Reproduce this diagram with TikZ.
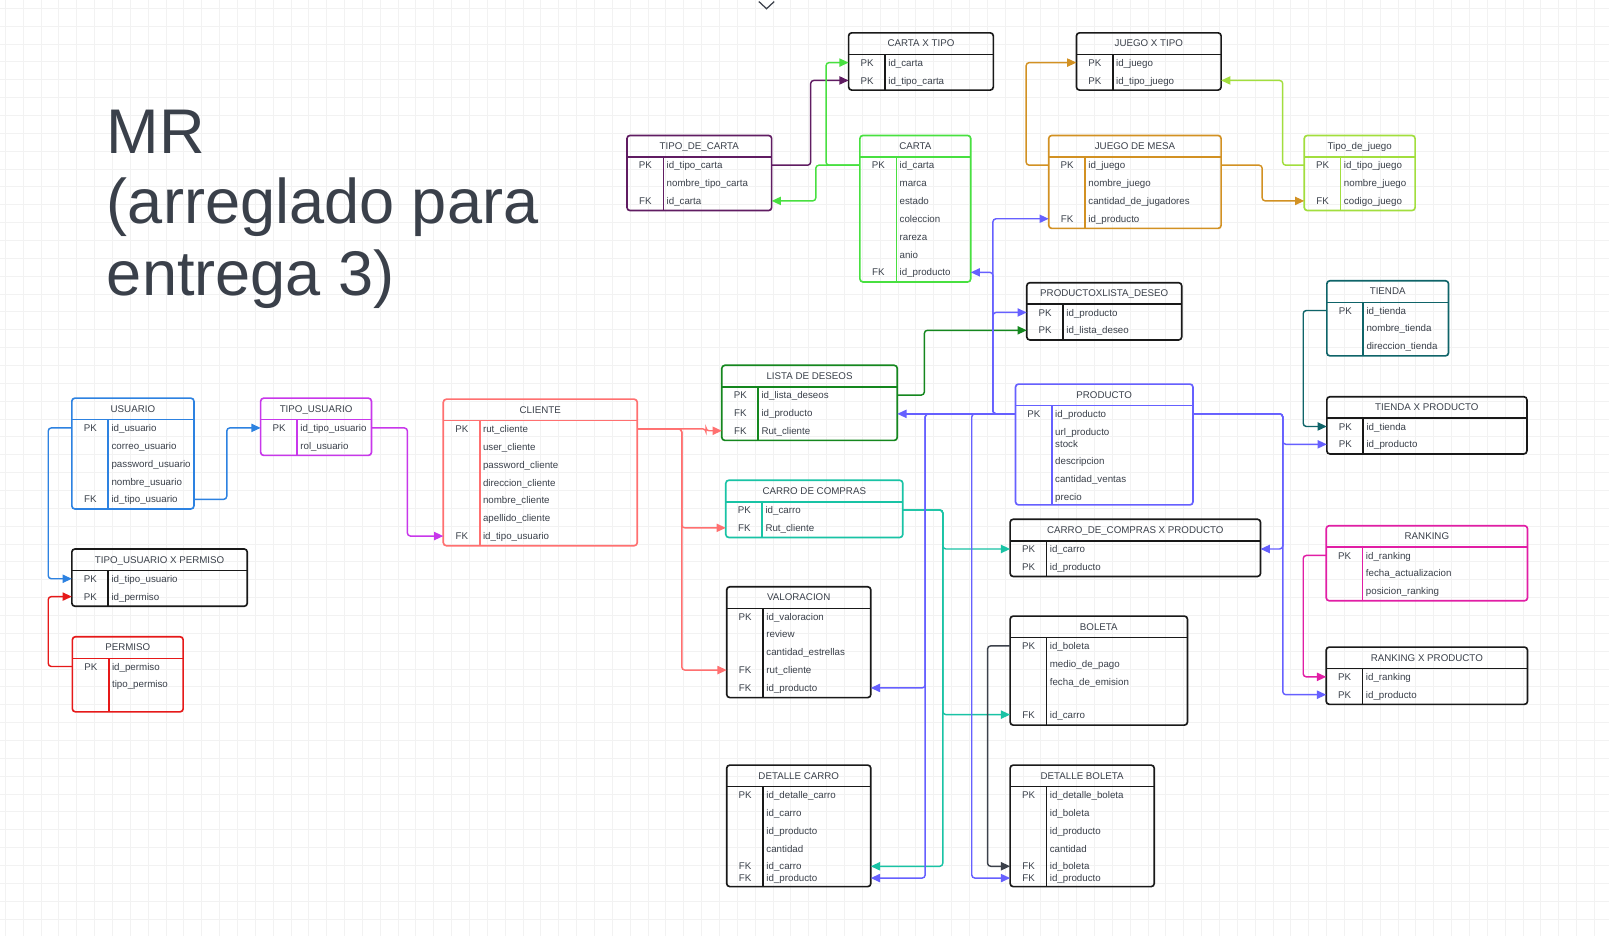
\documentclass[tikz,border=0pt]{standalone}
\usepackage{fontspec}
\setmainfont{Liberation Sans}
\usetikzlibrary{arrows.meta}

\definecolor{texto}{RGB}{58,64,74}
\definecolor{negro}{RGB}{25,25,25}
\definecolor{morado}{RGB}{96,28,98}
\definecolor{verde}{RGB}{72,224,64}
\definecolor{naranja}{RGB}{210,145,35}
\definecolor{lima}{RGB}{162,222,62}
\definecolor{azul}{RGB}{45,130,225}
\definecolor{violeta}{RGB}{200,55,235}
\definecolor{rojo}{RGB}{230,25,25}
\definecolor{salmon}{RGB}{255,112,112}
\definecolor{verdeosc}{RGB}{20,135,30}
\definecolor{turquesa}{RGB}{25,195,165}
\definecolor{lila}{RGB}{102,96,255}
\definecolor{petroleo}{RGB}{15,100,105}
\definecolor{rosa}{RGB}{225,30,165}
\definecolor{grisosc}{RGB}{60,65,75}

\tikzset{
    borde/.style={line width=1.6pt, rounded corners=3pt},
    linea/.style={line width=1.5pt},
    letra/.style={text=texto, font=\fontsize{9.5}{11}\selectfont, inner sep=0pt, text height=7pt, text depth=2pt},
    cabecera/.style={letra},
    clave/.style={letra},
    campo/.style={letra, anchor=west},
    fila/.style={minimum height=0pt, inner sep=0pt, outer sep=0pt},
    conector/.style={line width=1.4pt, rounded corners=3pt, -{Triangle[length=9pt,width=8pt]}},
    rejilla/.style={gray!10, line width=0.6pt},
    titulo/.style={text=texto, font=\fontsize{61.5}{70}\selectfont, inner sep=0pt, anchor=base west},
}

% #1 nombre, #2 titulo, #3 color, #4 x, #5 y, #6 ancho, #7 alto (filas), #8 filas clave/campo/posicion
\newcommand{\tabla}[8]{%
    \draw[borde, #3] (#4,#5) rectangle ++(#6,21+#7*17.4);
    \draw[linea, #3] (#4,#5+21) -- ++(#6,0);
    \draw[linea, #3] (#4+35.5,#5+21) -- (#4+35.5,#5+21+#7*17.4);
    \node[cabecera] (#1) at (#4+#6/2,#5+11.3) {#2};
    \foreach \k/\f/\p [count=\i] in {#8} {
        \node[fila, minimum width=#6pt] (#1-\i) at (#4+#6/2,#5+29+\p*17.4) {};
        \node[clave] (#1-\i-k) at (#4+18,#5+30+\p*17.4) {\k};
        \node[campo] (#1-\i-c) at (#4+38.5,#5+30+\p*17.4) {\f};
    }%
}

\begin{document}
\begin{tikzpicture}[x=1pt, y=-1pt]

    \useasboundingbox (0,0) rectangle (1568,912);
    \fill[white] (0,0) rectangle (1568,912);

    % rejilla de fondo
    \foreach \gx in {5,22.4,...,1568} {
        \draw[rejilla] (\gx,0) -- (\gx,912);
    }
    \foreach \gy in {8,25.4,...,912} {
        \draw[rejilla] (0,\gy) -- (1568,\gy);
    }

    \draw[grisosc, line width=1.2pt] (739.5,1.5) -- (747,8.5) -- (754.5,1.5);

    \node[titulo] (tit1) at (104,150) {MR};
    \node[titulo] (tit2) at (104,218) {(arreglado para};
    \node[titulo] (tit3) at (104,288) {entrega 3)};

    % tablas
    \tabla{cxt}{CARTA X TIPO}{negro}{827}{32}{141}{2}{PK/id\_carta/0, PK/id\_tipo\_carta/1}
    \tabla{tdc}{TIPO\_DE\_CARTA}{morado}{611}{132}{141}{3}{PK/id\_tipo\_carta/0, {}/nombre\_tipo\_carta/1, FK/id\_carta/2}
    \tabla{carta}{CARTA}{verde}{838}{132}{108}{7}{PK/id\_carta/0, {}/marca/1, {}/estado/2, {}/coleccion/3, {}/rareza/4, {}/anio/5, FK/id\_producto/6}
    \tabla{jxt}{JUEGO X TIPO}{negro}{1049}{32}{141}{2}{PK/id\_juego/0, PK/id\_tipo\_juego/1}
    \tabla{jm}{JUEGO DE MESA}{naranja}{1022}{132}{168}{4}{PK/id\_juego/0, {}/nombre\_juego/1, {}/cantidad\_de\_jugadores/2, FK/id\_producto/3}
    \tabla{tdj}{Tipo\_de\_juego}{lima}{1271}{132}{108}{3}{PK/id\_tipo\_juego/0, {}/nombre\_juego/1, FK/codigo\_juego/2}
    \tabla{usu}{USUARIO}{azul}{70}{388}{119}{5}{PK/id\_usuario/0, {}/correo\_usuario/1, {}/password\_usuario/2, {}/nombre\_usuario/3, FK/id\_tipo\_usuario/4}
    \tabla{tu}{TIPO\_USUARIO}{violeta}{254}{388}{108}{2}{PK/id\_tipo\_usuario/0, {}/rol\_usuario/1}
    \tabla{tuxp}{TIPO\_USUARIO X PERMISO}{negro}{70}{535}{171}{2}{PK/id\_tipo\_usuario/0, PK/id\_permiso/1}
    \tabla{perm}{PERMISO}{rojo}{70.5}{620.5}{108}{3}{PK/id\_permiso/0, {}/tipo\_permiso/1}
    \tabla{cli}{CLIENTE}{salmon}{432}{389}{189}{7}{PK/rut\_cliente/0, {}/user\_cliente/1, {}/password\_cliente/2, {}/direccion\_cliente/3, {}/nombre\_cliente/4, {}/apellido\_cliente/5, FK/id\_tipo\_usuario/6}
    \tabla{lista}{LISTA DE DESEOS}{verdeosc}{703.4}{356}{171}{3}{PK/id\_lista\_deseos/0, FK/id\_producto/1, FK/Rut\_cliente/2}
    \tabla{carro}{CARRO DE COMPRAS}{turquesa}{707.3}{468}{172.5}{2}{PK/id\_carro/0, FK/Rut\_cliente/1}
    \tabla{pxl}{PRODUCTOXLISTA\_DESEO}{negro}{1000.6}{275.5}{151}{2}{PK/id\_producto/0, PK/id\_lista\_deseo/1}
    \tabla{prod}{PRODUCTO}{lila}{989.6}{374.3}{173}{5.56}{PK/id\_producto/0, {}/url\_producto/1, {}/stock/1.68, {}/descripcion/2.66, {}/cantidad\_ventas/3.66, {}/precio/4.65}
    \tabla{tie}{TIENDA}{petroleo}{1293}{273.6}{118.6}{3}{PK/id\_tienda/0, {}/nombre\_tienda/1, {}/direccion\_tienda/2}
    \tabla{txp}{TIENDA X PRODUCTO}{negro}{1293}{386.6}{195}{2}{PK/id\_tienda/0, PK/id\_producto/1}
    \tabla{cxp}{CARRO\_DE\_COMPRAS X PRODUCTO}{negro}{984.4}{506}{244}{2}{PK/id\_carro/0, PK/id\_producto/1}
    \tabla{val}{VALORACION}{negro}{708.2}{571.8}{140.4}{5}{PK/id\_valoracion/0, {}/review/1, {}/cantidad\_estrellas/2, FK/rut\_cliente/3, FK/id\_producto/4}
    \tabla{bol}{BOLETA}{negro}{984.4}{600.4}{172.8}{4.9}{PK/id\_boleta/0, {}/medio\_de\_pago/1, {}/fecha\_de\_emision/2, FK/id\_carro/3.85}
    \tabla{dc}{DETALLE CARRO}{negro}{708.2}{745.6}{140.4}{5.6}{PK/id\_detalle\_carro/0, {}/id\_carro/1, {}/id\_producto/2, {}/cantidad/3, FK/id\_carro/4, FK/id\_producto/4.66}
    \tabla{db}{DETALLE BOLETA}{negro}{984.4}{745.6}{140.4}{5.6}{PK/id\_detalle\_boleta/0, {}/id\_boleta/1, {}/id\_producto/2, {}/cantidad/3, FK/id\_boleta/4, FK/id\_producto/4.66}
    \tabla{rank}{RANKING}{rosa}{1292.4}{512.3}{196.2}{3}{PK/id\_ranking/0, {}/fecha\_actualizacion/1, {}/posicion\_ranking/2}
    \tabla{rxp}{RANKING X PRODUCTO}{negro}{1292.4}{630.6}{196.2}{2}{PK/id\_ranking/0, PK/id\_producto/1}

    % relaciones
    \draw[conector, morado] (tdc-1.east) -- ++(38,0) |- (cxt-2.west);
    \draw[conector, verde] (carta-1.west) -- ++(-33,0) |- (cxt-1.west);
    \draw[conector, verde] (carta-1.west) -- ++(-43,0) |- (tdc-3.east);
    \draw[conector, naranja] (jm-1.west) -- ++(-22,0) |- (jxt-1.west);
    \draw[conector, naranja] (jm-1.east) -- ++(40,0) |- (tdj-3.west);
    \draw[conector, lima] (tdj-1.west) -- ++(-21,0) |- (jxt-2.east);

    \draw[conector, azul] (usu-1.west) -- ++(-23,0) |- (tuxp-1.west);
    \draw[conector, azul] (usu-5.east) -- ++(32,0) |- (tu-1.west);
    \draw[conector, rojo] (perm-1.west) -- ++(-23.5,0) |- (tuxp-2.west);
    \draw[conector, violeta] (tu-1.east) -- ++(35,0) |- (cli-7.west);

    \draw[conector, salmon] (cli-1.east) -- ++(67,0) |- (lista-3.west);
    \draw[conector, salmon] (cli-1.east) -- ++(43.4,0) |- (carro-2.west);
    \draw[conector, salmon] (cli-1.east) -- ++(43.4,0) |- (val-4.west);

    \draw[conector, verdeosc] (lista-1.east) -- ++(26.4,0) |- (pxl-2.west);

    \draw[conector, turquesa] (carro-1.east) -- ++(39,0) |- (cxp-1.west);
    \draw[conector, turquesa] (carro-1.east) -- ++(39,0) |- (bol-4.west);
    \draw[conector, turquesa] (carro-1.east) -- ++(39,0) |- (dc-5.east);

    \draw[conector, lila] (prod-1.west) -- (prod-1.west -| lista-2.east);
    \draw[conector, lila] (prod-1.west) -- ++(-22,0) |- (jm-4.west);
    \draw[conector, lila] (prod-1.west) -- ++(-22,0) |- (carta-7.east);
    \draw[conector, lila] (prod-1.west) -- ++(-22,0) |- (pxl-1.west);
    \draw[conector, lila] (prod-1.west) -- ++(-88,0) |- (val-5.east);
    \draw[conector, lila] (prod-1.west) -- ++(-88,0) |- (dc-6.east);
    \draw[conector, lila] (prod-1.west) -- ++(-42.6,0) |- (db-6.west);
    \draw[conector, lila] (prod-1.east) -- ++(87.5,0) |- (txp-2.west);
    \draw[conector, lila] (prod-1.east) -- ++(87.5,0) |- (cxp-1.east);
    \draw[conector, lila] (prod-1.east) -- ++(87.5,0) |- (rxp-2.west);

    \draw[conector, petroleo] (tie-1.west) -- ++(-23,0) |- (txp-1.west);
    \draw[conector, rosa] (rank-1.west) -- ++(-22.4,0) |- (rxp-1.west);
    \draw[conector, grisosc] (bol-1.west) -- ++(-22,0) |- (db-5.west);

\end{tikzpicture}
\end{document}
